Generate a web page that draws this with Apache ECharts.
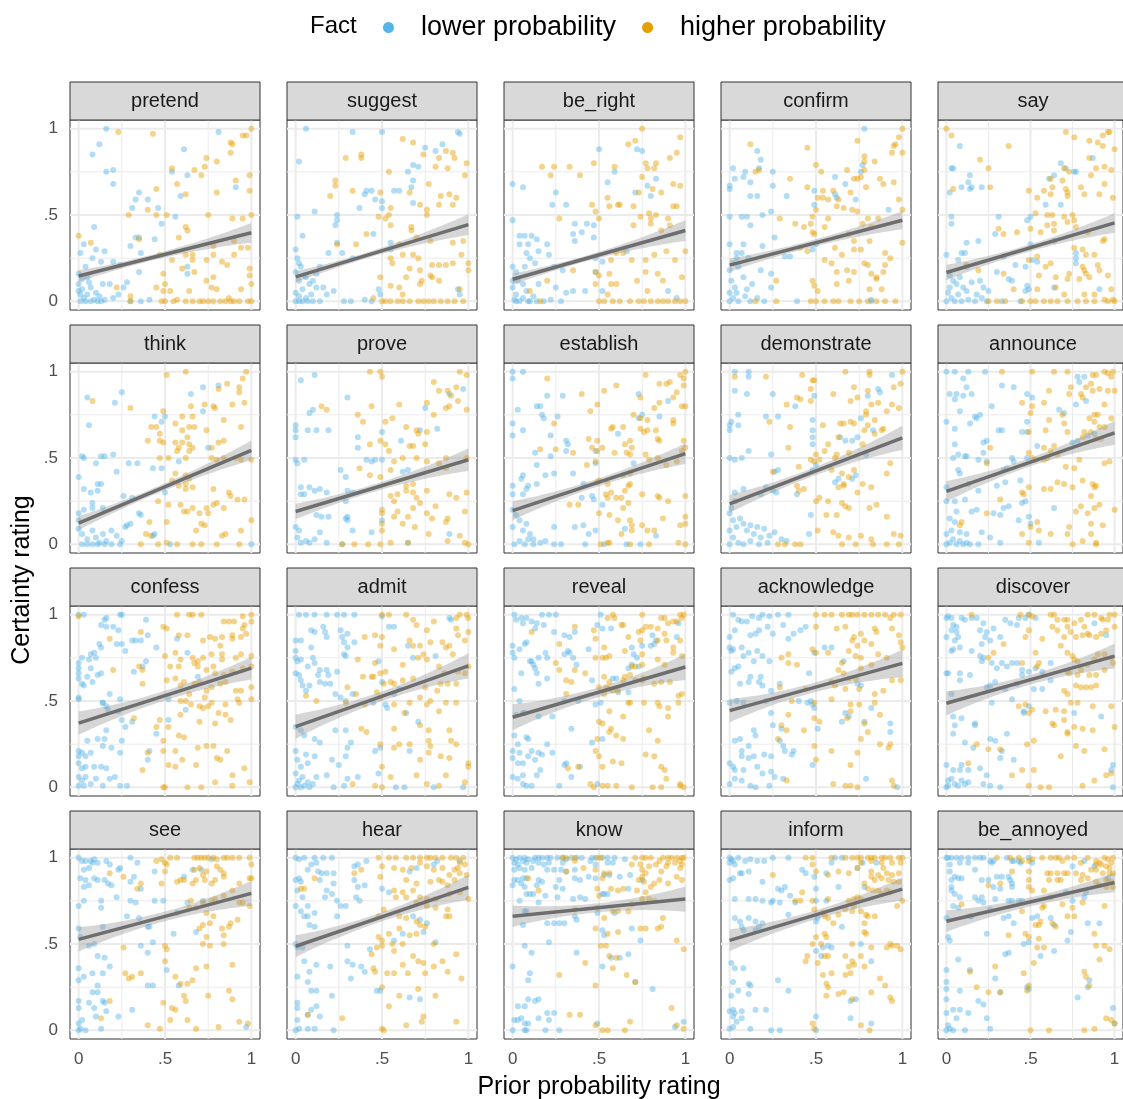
<!DOCTYPE html>
<html><head><meta charset="utf-8">
<script src="https://cdn.jsdelivr.net/npm/echarts@6/dist/echarts.min.js"></script>
<style>html,body{margin:0;padding:0;background:#fff}#c{width:1123px;height:1099px}</style>
</head><body><div id="c"></div>
<script>
const predicates = ['pretend','suggest','be_right','confirm','say','think','prove','establish','demonstrate','announce','confess','admit','reveal','acknowledge','discover','see','hear','know','inform','be_annoyed'];
const fitAt0 = [0.147,0.142,0.128,0.21,0.167,0.123,0.19,0.195,0.234,0.307,0.372,0.352,0.406,0.444,0.487,0.527,0.487,0.661,0.521,0.632];
const fitAt1 = [0.397,0.444,0.41,0.47,0.454,0.544,0.49,0.525,0.617,0.646,0.69,0.703,0.697,0.718,0.76,0.793,0.828,0.76,0.818,0.856];
const bandAt0 = [0.033,0.033,0.033,0.038,0.045,0.04,0.045,0.055,0.052,0.06,0.067,0.07,0.075,0.067,0.07,0.07,0.063,0.062,0.063,0.062];
const bandAtMid = [0.018,0.018,0.018,0.02,0.02,0.02,0.022,0.022,0.024,0.024,0.028,0.028,0.028,0.028,0.028,0.028,0.026,0.026,0.026,0.026];
const bandAt1 = [0.057,0.06,0.06,0.052,0.057,0.057,0.065,0.06,0.07,0.07,0.065,0.073,0.075,0.08,0.072,0.072,0.072,0.073,0.067,0.057];
const factLevels = ['lower probability','higher probability'];
const factColors = ['#56B4E9','#E69F00'];
const tickValues = [0, 0.5, 1];
const tickLabels = ['0', '.5', '1'];
const gridValues = [0, 0.25, 0.5, 0.75, 1];

// points as "x,y" pairs in percent, one string per predicate
const lowPoints = [
"16,100 12,91 8,85 16,75 20,76 20,68 61,88 81,98 54,75 63,73 35,63 33,59 40,59 31,54 46,54 59,61 91,66 56,49 48,45 9,43 33,37 35,37 3,33 30,32 44,36 10,30 15,29 1,28 8,25 13,23 4,20 0,16 20,23 24,21 36,28 63,20 63,16 35,17 14,10 18,10 28,11 0,6 2,7 5,4 7,8 3,2 9,1 11,0 13,0 15,1 1,0 4,0 7,0 20,2 23,4 36,0 41,1 30,0 0,10 2,13 6,11 10,5 12,3 1,4 5,14 26,8",
"6,100 33,98 50,98 94,98 95,97 2,81 75,89 81,87 85,91 68,79 71,78 65,75 68,70 67,66 68,57 41,64 44,64 40,62 57,64 60,64 46,59 50,58 50,54 37,54 11,52 24,50 24,47 23,44 45,39 1,49 4,38 55,34 55,30 24,34 19,28 27,28 33,25 94,7 95,4 48,7 49,4 40,1 44,0 32,0 28,0 18,4 22,6 16,8 0,30 1,25 2,22 3,20 0,17 5,15 2,12 8,10 10,12 12,8 0,5 2,3 4,7 6,2 9,4 0,0 2,0 4,0 7,0 10,0 14,0 6,14 12,16 14,20",
"0,68 6,66 25,63 23,56 31,56 50,88 72,88 75,87 55,69 59,75 71,63 80,61 78,67 83,71 0,47 4,38 7,38 11,38 14,36 4,33 9,33 20,33 15,29 21,27 8,28 36,45 43,45 47,44 40,40 35,39 47,37 36,35 10,25 13,22 7,20 0,20 2,17 0,12 24,20 29,18 48,25 52,23 66,29 15,10 25,8 31,5 35,6 42,6 90,6 95,2 48,17 52,6 0,8 2,4 4,0 6,2 8,6 10,0 12,3 3,12 6,10 1,1 14,0 18,0 22,1 28,0 2,0 9,0",
"78,100 16,87 18,82 17,77 2,77 9,75 8,72 3,71 0,67 0,65 12,69 25,75 25,67 12,61 16,61 33,61 77,79 76,75 61,72 67,68 49,64 49,56 61,62 62,60 73,59 0,49 7,49 10,49 12,44 19,50 24,52 92,53 0,33 8,33 19,32 26,37 4,28 7,28 4,25 11,25 32,26 35,26 48,30 50,33 2,22 5,20 0,18 8,14 18,18 24,16 13,10 24,8 1,12 3,8 0,5 2,2 5,0 9,3 12,0 16,2 20,0 39,0 82,0 82,1 0,0 4,5 10,7",
"8,90 3,77 4,77 14,73 13,69 15,66 9,66 14,65 2,63 21,66 68,80 71,77 76,75 77,75 61,71 64,73 87,83 3,49 3,45 31,49 29,39 50,49 48,47 59,56 68,56 12,34 19,35 9,28 11,28 7,24 0,27 12,20 34,26 41,21 50,33 51,24 54,23 64,35 47,20 77,28 77,25 77,22 30,17 37,13 39,12 48,9 49,7 47,6 64,8 91,7 2,15 4,12 6,10 8,14 10,8 12,6 15,11 18,4 20,12 22,8 25,6 1,5 3,2 5,0 7,4 9,0 13,1 17,0 21,2 24,0 33,0 44,0 0,0 2,8",
"5,85 25,88 21,82 6,69 72,91 81,92 65,87 72,77 44,74 48,71 50,74 2,51 3,50 13,51 15,51 20,52 10,47 34,47 29,47 22,42 43,44 48,44 58,48 75,56 0,39 3,32 7,30 11,35 13,35 11,31 26,28 31,27 3,20 8,21 8,24 14,21 35,18 36,17 0,18 0,14 0,9 2,6 5,3 8,8 10,4 12,1 14,6 16,2 19,8 22,5 25,2 27,10 28,11 30,12 2,0 5,0 8,0 11,0 15,0 19,0 24,0 44,6 53,0 100,0 43,5 50,30",
"3,95 11,98 8,76 10,78 0,69 0,66 0,62 7,66 12,66 19,66 30,85 36,62 36,56 89,87 97,90 82,67 75,79 72,66 61,60 50,65 0,49 5,49 1,47 26,43 29,39 41,49 46,49 50,49 44,48 65,43 62,42 3,33 8,33 3,29 5,29 11,31 14,32 18,30 30,31 33,30 29,25 12,17 15,16 19,16 30,16 29,15 30,14 33,8 44,7 50,14 1,4 3,1 6,2 8,1 11,3 14,7 18,1 27,0 65,1 89,6 0,10 2,8",
"0,100 6,100 0,96 3,78 0,70 0,63 6,66 20,86 14,80 16,80 17,75 18,73 26,74 22,63 29,86 31,60 32,58 31,54 13,53 22,51 14,46 24,41 19,40 6,40 5,38 0,34 0,29 6,29 9,34 14,35 8,32 35,41 41,35 48,54 48,47 61,64 73,87 75,75 73,73 85,74 90,83 70,47 24,10 36,10 41,11 47,26 46,28 40,27 44,6 48,8 52,23 65,9 83,5 0,20 2,17 4,14 0,10 6,8 8,12 10,6 12,3 1,0 4,2 7,0 9,3 12,0 16,1 19,2 24,0 28,0 42,0 53,0 66,0 74,0",
"3,100 11,100 11,97 3,89 10,87 1,71 0,66 0,69 5,69 5,75 25,87 21,74 28,74 38,80 49,86 48,72 48,66 48,62 48,58 0,50 3,49 7,50 11,54 24,52 28,43 26,42 21,33 25,31 18,29 27,30 8,32 3,30 3,25 1,21 39,29 50,46 48,43 64,62 67,60 71,60 74,62 76,73 80,86 86,90 87,88 94,98 83,66 79,52 63,38 61,36 71,38 73,40 47,17 46,6 33,2 0,18 2,14 4,10 6,15 8,12 10,8 12,11 14,6 16,10 18,4 20,9 23,5 26,7 2,4 5,1 8,0 0,0 12,2 17,0 22,1 30,3 0,8",
"0,100 5,100 13,100 23,100 10,96 12,91 33,92 2,87 6,87 10,86 15,87 5,84 8,77 27,80 40,91 48,87 51,85 78,97 82,97 79,94 77,81 83,83 67,78 70,76 0,71 5,67 14,70 18,73 20,75 17,74 31,66 33,66 45,65 48,71 48,65 5,58 7,52 4,50 11,51 12,51 22,59 24,60 22,53 19,49 24,48 48,50 54,57 39,50 40,48 34,43 36,44 7,43 8,41 13,35 0,33 0,25 5,25 11,26 19,31 30,34 35,36 44,37 45,24 47,25 64,21 75,59 78,60 84,63 88,64 6,19 5,13 2,15 15,19 18,20 28,18 32,17 34,21 37,22 8,7 12,6 21,7 26,4 32,1 43,14 49,16 50,12 55,1 0,0 2,1 4,3 6,0 8,2 10,0 12,1 14,0 19,0 0,6 3,8",
"0,100 3,100 15,97 16,98 13,94 16,93 20,93 23,91 24,100 25,100 39,97 12,83 13,81 22,83 25,83 27,79 31,85 33,85 40,88 36,85 2,75 7,77 9,78 10,75 6,74 0,72 0,69 0,66 0,63 2,60 3,59 7,69 5,64 8,61 11,65 13,66 32,67 37,70 39,73 45,81 57,86 63,78 69,64 62,45 52,51 0,51 0,52 14,49 14,49 16,47 17,45 18,54 24,51 23,44 25,39 31,38 27,35 16,33 45,31 52,39 5,27 11,28 14,24 15,28 19,23 24,20 25,27 0,21 0,18 2,20 4,18 7,20 0,14 2,11 4,12 9,12 13,12 16,11 0,6 2,4 4,6 7,2 10,5 14,1 18,5 21,6 24,1 28,1 0,1 3,1 40,16 41,21",
"2,100 6,100 11,100 18,100 24,100 28,100 34,100 50,99 89,98 90,97 9,91 11,90 16,93 17,90 26,91 28,84 34,84 18,87 27,87 30,89 54,93 57,93 65,82 68,75 81,76 0,85 3,85 0,79 0,75 1,73 3,74 7,70 9,81 10,75 11,72 13,65 14,68 18,68 19,65 24,67 28,77 30,81 29,76 20,60 23,54 0,66 2,65 3,62 4,59 6,56 8,59 14,61 17,60 26,52 29,50 33,54 48,73 50,61 52,48 45,49 60,57 57,54 64,43 71,38 66,21 53,46 49,23 46,21 0,35 3,33 5,30 11,28 14,26 23,33 29,33 32,26 30,23 29,18 25,13 21,16 0,21 1,16 3,12 7,14 11,18 6,19 12,6 18,7 22,0 28,1 30,5 36,6 48,8 58,0 63,0 80,0 97,0 0,0 1,2 2,4 3,0 4,6 5,1 7,3 8,0 10,2 0,8",
"1,100 2,97 5,98 8,98 6,95 11,96 14,95 17,100 21,100 25,100 13,92 18,94 24,90 30,88 33,87 36,90 49,94 52,92 57,92 51,100 0,82 0,78 1,75 4,80 7,83 8,84 11,73 12,71 13,69 10,73 15,75 19,78 20,75 30,77 32,79 33,78 35,75 37,71 44,80 5,66 14,66 15,60 20,63 1,57 4,50 6,43 23,41 30,50 38,50 46,62 48,48 51,49 58,63 60,63 69,81 70,77 72,75 75,82 67,69 69,71 73,70 80,82 82,83 83,85 95,87 96,95 81,88 67,55 61,55 2,42 7,43 15,41 34,34 46,26 52,28 30,13 31,14 39,12 1,30 8,29 9,28 3,25 0,21 4,20 11,21 15,20 20,25 0,17 3,14 6,14 9,18 13,16 17,19 23,20 0,6 3,5 6,7 6,2 8,1 11,1 14,7 16,10 27,1 34,6 49,2",
"2,100 5,97 7,96 3,91 10,96 13,99 17,98 19,100 17,91 15,89 12,88 22,93 23,99 28,100 34,100 44,93 41,91 37,89 34,86 25,89 31,94 0,87 0,81 1,79 2,80 7,81 11,78 16,79 19,76 23,73 8,76 5,70 1,67 3,69 14,73 12,64 17,61 6,60 11,61 19,59 24,56 29,60 18,64 46,66 55,81 49,78 59,81 66,73 0,49 4,50 8,49 21,50 24,43 25,36 30,34 40,50 45,49 47,50 48,48 49,46 51,34 67,43 69,41 65,38 78,38 74,60 76,59 82,46 93,37 93,32 3,27 6,28 11,24 14,33 15,30 7,21 7,18 11,17 14,18 20,19 24,18 29,27 31,24 32,21 36,19 37,21 0,14 2,12 3,10 8,10 16,12 19,8 24,9 26,6 31,5 3,5 7,4 12,1 15,0 23,1 0,2 48,13 79,5 97,0",
"0,98 1,99 3,98 9,98 11,97 15,98 18,98 22,95 20,91 24,90 32,87 26,85 21,83 23,87 28,92 35,97 38,95 42,94 43,98 47,98 49,100 53,98 88,95 95,88 4,94 6,93 3,91 6,90 7,87 5,85 0,87 3,79 4,80 8,81 15,79 20,76 22,75 21,73 27,72 30,69 33,72 36,70 39,72 42,72 45,68 49,67 53,69 62,72 57,67 52,57 57,57 62,62 45,65 42,60 39,51 35,57 29,61 26,59 24,58 27,49 0,66 1,66 8,66 8,62 14,65 3,54 4,41 5,36 9,40 17,37 17,36 4,31 11,26 16,23 26,28 29,27 33,21 32,17 36,31 40,16 0,13 4,10 9,13 8,10 13,10 1,4 3,5 5,2 7,1 9,4 11,2 13,3 20,11 24,7 22,2 26,1 32,0 0,0 1,1 46,43 49,47 46,44 76,43 92,41 99,13 98,10 99,0",
"0,100 2,98 4,98 7,98 9,99 11,97 16,98 18,96 3,93 6,94 8,97 1,88 4,87 3,83 6,84 9,88 11,87 15,87 17,85 19,84 23,93 24,94 30,100 34,97 36,82 30,86 32,89 44,92 61,89 66,93 71,93 77,99 3,75 0,72 13,75 22,77 13,71 30,75 33,74 28,66 35,65 44,75 49,75 55,56 57,68 63,74 40,60 41,60 72,75 0,59 1,54 6,49 9,50 14,60 11,43 15,42 18,37 0,36 3,31 0,29 8,33 14,33 36,49 40,45 43,51 43,26 40,26 51,35 58,26 68,57 8,22 11,22 11,26 14,17 9,13 6,16 15,16 10,8 16,11 23,8 31,12 0,17 0,13 0,4 1,1 4,0 13,1 0,0 2,6 97,2",
"0,100 2,99 5,100 11,100 16,100 21,100 9,96 12,97 7,93 13,92 15,91 18,91 22,91 34,95 36,96 41,98 66,92 70,94 80,96 82,98 95,98 0,87 2,88 3,86 1,81 4,77 0,72 7,72 3,69 5,66 7,66 11,68 14,87 18,81 22,85 17,77 21,79 24,75 26,72 29,72 24,66 11,60 8,61 34,87 36,83 40,84 35,77 37,75 50,82 54,80 0,50 1,48 4,48 5,40 12,38 20,37 30,49 30,40 33,38 38,37 40,34 32,30 43,47 57,52 62,56 68,66 72,64 74,57 76,62 81,51 1,31 8,34 7,28 9,23 12,23 21,20 1,16 1,13 7,9 9,12 12,14 14,8 1,6 0,0 2,1 7,1 11,1 22,0 47,23 49,23 66,19 72,18",
"0,100 2,99 4,100 7,100 9,99 13,100 15,100 17,100 20,100 22,100 26,100 29,100 31,99 34,100 37,100 40,100 46,100 48,100 52,100 55,100 59,100 1,97 3,96 6,98 8,97 12,98 15,97 18,96 21,97 29,97 1,93 4,94 7,93 11,94 20,93 24,93 28,93 31,92 36,93 45,98 48,96 55,97 58,97 65,99 1,87 3,87 6,88 8,88 15,87 17,86 0,84 5,85 7,83 14,84 25,83 29,82 27,87 36,88 39,87 44,89 48,88 53,90 56,90 62,89 68,90 8,79 10,79 12,79 19,78 15,74 4,75 26,77 35,76 39,77 42,76 52,79 53,79 55,79 67,82 75,87 7,69 8,69 6,61 20,62 24,62 27,62 30,62 36,66 37,64 49,68 52,58 53,55 59,68 69,59 74,52 7,49 11,45 21,51 0,37 10,33 9,29 15,18 13,17 9,18 3,14 7,14 1,6 3,6 5,7 7,4 9,4 15,7 20,10 24,10 21,6 0,0 7,0 8,0 19,0 27,0 37,45 49,4 52,37 57,42 62,42 67,44 71,28 81,24 99,5 94,2",
"0,100 1,99 2,98 5,100 9,98 12,99 16,98 20,98 25,100 34,100 0,97 3,96 7,91 11,92 0,87 2,88 6,91 19,86 11,76 15,76 3,76 19,75 25,75 30,81 32,83 35,78 28,82 38,74 29,74 42,93 44,91 49,89 50,82 50,75 56,91 56,75 63,83 61,100 65,100 59,97 74,94 77,97 85,97 3,65 6,63 7,60 11,65 15,63 17,60 19,62 15,58 8,58 24,74 34,67 51,65 50,63 57,49 59,48 65,60 53,43 54,48 50,46 1,39 3,36 8,36 11,27 12,26 2,28 5,23 11,21 28,29 34,23 82,40 76,50 78,83 70,17 73,18 70,7 82,4 1,20 0,11 2,12 3,10 2,8 7,11 4,5 7,7 0,1 2,2 12,1 15,12 21,12 24,0 29,0 50,8 50,0",
"0,100 1,100 3,100 6,100 9,100 13,100 17,100 20,100 22,100 26,98 27,97 28,98 36,100 39,98 40,98 43,98 44,97 49,100 51,97 2,96 8,97 13,97 2,92 3,87 7,88 5,89 9,88 17,93 21,87 25,87 30,89 33,89 37,89 38,87 39,85 28,83 32,82 39,83 3,83 3,81 5,79 8,77 17,77 19,75 21,77 22,74 26,70 29,76 37,75 39,75 43,75 45,75 75,95 82,98 88,95 96,88 71,80 82,77 83,80 75,75 4,72 7,71 15,66 14,66 34,65 37,66 40,62 51,65 54,66 62,65 64,61 74,57 84,62 91,62 0,65 1,54 2,52 24,56 35,44 37,45 46,50 49,51 56,43 64,46 72,52 7,41 14,35 0,35 0,28 0,24 8,23 19,17 22,15 32,22 29,30 48,25 49,24 78,19 85,29 84,25 0,18 0,10 4,12 6,7 13,10 8,12 24,7 26,1 1,3 0,0 2,1 4,0 11,0 99,13 100,4"
];
const highPoints = [
"23,98 43,97 100,100 97,96 95,96 88,92 89,91 88,86 74,83 80,81 73,78 67,76 54,77 71,73 57,68 45,65 91,70 99,73 99,64 80,63 62,62 40,53 29,50 45,50 51,50 75,50 89,48 95,48 100,50 62,43 63,41 58,37 35,36 7,34 0,38 94,31 90,35 98,31 78,32 66,27 62,27 47,27 54,24 78,27 90,27 66,24 74,24 83,23 86,21 99,19 99,15 78,14 74,12 67,17 60,19 49,16 50,10 49,6 45,8 30,3 22,8 53,6 64,6 77,8 80,7 100,10 94,7 48,0 50,0 55,0 62,0 66,0 70,0 72,0 75,0 78,0 82,0 85,0 88,0 90,0 93,0 98,0 100,0 30,0 57,1 87,2",
"29,83 38,85 38,83 23,70 23,67 20,61 33,64 49,63 62,94 68,92 74,85 83,83 87,87 91,86 92,83 99,80 98,73 81,78 88,77 54,75 77,68 66,63 72,56 84,61 89,62 93,60 76,53 76,50 83,56 91,56 55,54 54,50 48,49 52,48 55,44 41,39 35,33 24,33 67,43 67,41 60,33 78,35 70,37 91,34 97,35 96,27 62,27 68,27 71,25 55,25 56,22 79,21 83,21 87,21 91,22 100,22 66,19 72,18 78,15 79,14 73,12 72,10 64,14 100,18 49,14 55,9 60,8 83,12 95,7 50,0 52,0 55,0 59,0 62,0 66,0 71,0 74,0 77,0 80,0 84,0 88,0 92,0 97,0 45,2 62,4",
"75,100 67,91 71,93 97,95 95,86 91,83 17,78 24,78 33,78 22,73 39,73 47,80 59,78 75,72 78,77 82,77 83,80 77,80 93,68 97,67 73,63 86,63 81,65 55,60 61,56 56,55 62,56 70,55 46,56 48,52 93,55 95,55 79,51 83,50 27,48 50,48 74,49 80,48 90,48 70,44 80,45 86,41 91,44 100,29 89,29 60,28 57,24 64,28 69,24 77,24 82,27 94,24 35,18 48,17 50,15 56,16 60,10 72,12 77,17 84,16 87,12 98,14 10,6 20,12 48,10 57,10 78,6 50,0 53,0 58,0 62,0 68,0 73,0 76,0 80,0 84,0 87,0 90,0 94,0 97,0 100,0 16,0 55,4",
"12,91 45,89 74,93 100,100 98,95 96,91 95,90 94,86 100,86 78,84 78,81 68,76 78,76 84,81 17,76 15,75 50,79 53,75 35,71 45,66 72,71 74,71 76,72 79,66 87,71 89,68 95,69 54,64 54,60 57,59 60,64 63,59 70,63 51,60 50,53 62,55 57,48 66,54 71,53 74,52 80,48 77,45 82,43 86,48 98,59 100,53 29,48 38,45 43,43 47,45 48,49 49,39 55,43 48,40 69,39 72,35 76,30 81,35 100,34 41,31 45,29 61,31 65,27 72,30 55,24 59,22 62,17 68,18 72,17 78,22 80,21 85,14 90,28 93,25 90,21 89,17 82,16 85,13 27,12 48,12 49,9 51,6 62,10 69,12 81,7 88,7 50,0 55,0 60,0 63,0 70,0 75,0 80,0 85,0 90,0 96,0 47,0 15,0 27,0",
"0,100 3,96 37,90 20,82 25,77 4,65 26,66 71,98 76,95 85,93 90,92 93,96 96,98 97,98 93,90 100,88 85,83 89,77 94,78 98,76 94,68 99,60 91,62 70,77 73,75 69,70 71,65 72,63 72,61 80,66 86,73 82,62 49,64 54,60 58,64 62,62 63,66 62,71 50,42 53,51 60,50 63,50 60,44 64,45 64,41 56,40 70,49 75,50 76,47 72,46 77,43 84,40 94,36 93,35 31,42 34,39 42,40 49,24 54,26 59,20 62,22 34,16 19,18 12,21 76,31 81,30 83,27 88,27 90,21 81,20 82,18 83,16 73,16 72,13 79,13 85,14 91,18 96,15 55,15 65,14 65,8 54,7 40,7 70,4 82,4 88,4 98,7 94,1 99,1 25,0 30,0 35,0 45,0 50,0 53,0 58,0 62,0 66,0 72,0 78,0 83,0 88,0 96,0 100,0",
"51,98 62,100 97,100 95,96 93,91 93,88 86,93 81,90 8,83 30,79 78,80 79,79 65,80 73,81 66,74 60,74 49,77 45,68 42,68 56,70 60,66 64,68 67,68 74,66 94,68 89,81 96,82 84,72 40,60 47,64 47,60 49,59 56,59 60,59 58,56 57,54 63,62 64,58 64,54 66,56 77,56 81,59 84,60 77,50 80,49 84,50 91,50 94,49 100,49 47,50 52,50 62,50 56,41 62,40 64,38 62,35 62,32 66,33 58,34 54,37 78,32 87,30 88,28 92,26 96,26 46,25 52,23 59,23 61,19 63,19 66,21 70,18 75,18 78,23 80,24 74,21 84,21 51,13 41,13 71,12 73,11 68,8 83,5 85,6 94,8 100,14 39,6 36,0 46,0 51,1 57,0 66,0 71,0 80,0 93,0 42,5",
"43,100 49,100 50,97 80,94 88,89 93,91 95,100 99,98 90,86 94,83 99,78 87,79 89,80 83,89 76,82 60,81 44,80 15,80 18,78 36,75 39,71 52,71 56,73 64,68 76,65 80,75 71,64 68,57 66,57 75,58 70,66 43,58 49,60 52,58 54,54 62,50 70,50 76,48 83,47 87,50 87,44 99,50 57,48 37,44 55,43 49,39 43,40 64,34 68,35 64,31 68,30 76,31 70,27 72,24 81,22 89,29 93,27 99,30 55,28 59,29 57,25 50,20 50,18 57,16 59,19 68,21 65,16 76,18 79,15 87,13 88,15 98,19 62,12 69,10 77,6 95,5 50,12 50,8 27,0 34,0 42,0 55,1 65,1 88,2 98,1 100,0 49,0",
"20,96 40,87 45,77 49,81 53,89 60,92 77,98 85,93 89,93 91,94 95,88 97,98 99,96 99,92 100,100 74,85 82,79 85,82 93,85 98,80 100,80 70,75 74,73 78,72 93,72 93,70 24,70 57,67 58,68 64,68 74,67 76,65 78,66 83,66 84,61 85,60 99,60 44,61 49,60 46,56 49,54 52,56 68,60 69,56 65,58 16,55 25,55 35,53 59,53 66,53 68,52 77,52 79,49 84,50 89,46 95,48 98,54 100,56 43,46 48,48 50,37 49,36 55,35 64,40 68,41 33,23 38,23 54,29 55,27 57,30 60,27 63,27 67,34 68,35 65,31 67,24 64,21 75,29 84,28 85,27 90,25 100,28 50,18 56,17 61,14 68,14 69,11 69,8 75,11 78,8 82,8 97,11 100,16 100,12 87,15 63,6 55,1 51,0 56,1 68,0 79,0 96,1 100,0",
"3,97 21,97 42,98 48,95 49,95 47,90 67,100 81,100 81,98 72,91 80,89 100,100 99,93 95,91 39,85 41,84 33,81 47,83 60,87 70,83 74,85 82,81 86,82 91,77 94,81 98,79 79,77 79,75 84,72 78,66 89,67 23,71 35,68 54,69 64,70 66,70 70,71 72,70 63,62 57,58 55,54 61,50 62,52 69,53 77,58 80,69 84,64 88,66 34,56 25,42 40,45 47,49 49,48 52,49 50,52 59,43 65,41 66,34 66,35 63,33 72,43 69,39 82,33 91,41 93,47 77,35 39,34 40,31 43,32 50,25 52,27 57,25 74,30 67,22 65,24 69,21 81,21 85,23 91,16 62,17 56,17 51,8 60,7 63,5 69,4 76,5 82,3 95,6 99,5 98,0 28,0 32,0 38,0 41,0 65,0 73,0 83,0 91,0",
"33,100 51,100 64,100 72,100 87,98 89,98 94,100 96,99 98,97 99,100 100,89 96,89 91,90 86,93 83,91 87,89 80,87 81,85 74,91 73,87 61,89 45,82 51,80 50,76 58,82 69,75 70,70 61,72 59,66 49,65 88,75 90,75 94,81 98,73 85,73 88,71 91,68 94,68 86,65 82,65 81,62 89,61 92,61 72,65 26,56 24,47 49,53 51,50 53,49 58,49 60,50 62,54 64,57 58,56 66,52 79,49 94,47 97,48 71,45 76,44 66,36 70,35 58,32 62,32 49,33 45,30 46,29 75,33 81,37 87,35 88,33 89,34 86,28 80,22 88,21 91,23 100,20 84,18 86,12 93,11 77,19 73,10 72,6 81,2 86,6 89,1 45,6 50,10 54,13 55,8 62,6 49,1 32,26 24,18 8,11 9,13 75,0 89,0",
"0,99 18,86 36,90 49,93 51,92 57,100 64,100 66,100 71,100 58,88 63,88 72,85 76,87 79,86 82,82 83,87 89,88 89,86 94,87 84,96 87,96 90,96 95,99 100,100 100,96 96,94 95,92 97,89 50,76 56,78 59,74 66,75 67,72 69,73 72,75 77,77 83,77 83,74 91,75 94,77 100,76 35,70 37,68 53,70 58,70 69,70 74,68 78,70 79,66 84,65 89,67 95,69 100,70 20,68 37,60 51,62 56,63 59,59 61,61 67,60 70,61 74,56 77,58 82,60 85,61 91,56 94,56 100,58 64,54 73,52 59,50 62,50 65,48 70,47 72,46 75,47 77,49 85,48 92,51 93,49 100,51 81,43 85,42 79,37 70,38 59,42 47,39 52,35 88,39 32,40 45,35 58,30 61,29 49,27 49,21 56,21 60,16 56,12 52,13 40,20 69,23 74,24 78,24 80,17 82,16 86,21 89,7 96,11 99,3 37,10 68,13 79,3 49,0 50,0 63,0 71,0 89,1",
"50,100 54,100 64,100 68,97 70,94 76,91 80,96 93,98 95,100 99,100 100,98 93,92 100,90 94,88 98,85 85,84 87,81 89,82 91,77 50,87 49,82 46,88 40,87 57,80 66,85 68,82 72,82 78,84 74,77 76,74 71,75 62,71 52,67 49,66 45,64 39,64 44,64 46,72 36,74 51,60 55,61 57,60 62,62 68,63 75,58 72,52 76,48 82,56 84,60 88,60 93,60 98,66 100,70 94,67 86,66 83,70 6,53 12,50 29,49 30,58 35,54 40,48 47,55 49,52 57,48 66,49 78,50 87,49 93,49 83,44 63,43 38,34 41,32 57,34 60,25 66,25 72,36 77,33 89,33 90,27 93,25 77,27 78,24 57,23 49,25 72,16 77,20 84,18 89,17 100,14 100,12 87,7 70,7 76,2 83,1 98,3 55,6 50,12 46,1 50,0 33,2",
"55,98 58,100 59,98 63,94 64,94 75,100 80,93 84,92 86,98 88,98 90,95 93,96 95,96 97,100 98,98 99,100 67,87 73,90 75,91 77,93 84,85 88,89 89,85 97,85 93,81 93,78 98,76 11,90 27,83 36,93 47,91 48,86 53,81 54,75 48,75 52,75 56,76 65,79 69,70 71,70 75,71 75,77 74,85 84,74 88,71 25,72 27,68 36,68 42,66 31,62 34,61 53,64 56,61 54,58 56,57 58,56 61,56 64,62 65,64 68,65 71,62 75,62 76,63 82,60 86,61 91,61 96,53 98,54 31,54 50,58 53,54 67,49 76,49 84,49 96,49 90,46 85,47 56,44 64,41 68,49 50,38 52,37 57,34 56,32 60,30 64,28 79,33 84,27 90,41 49,28 48,21 50,18 52,12 58,15 63,14 77,19 82,18 86,12 88,10 89,5 97,2 99,0 32,11 38,12 45,2 47,0 52,1 55,1 60,1 69,0 81,0 86,0 97,1",
"50,100 55,100 59,100 65,100 69,100 71,100 74,100 78,100 82,100 86,100 90,100 95,100 99,100 93,98 94,92 84,92 85,90 76,89 72,87 71,85 78,85 82,83 98,88 99,84 100,81 62,92 67,93 50,93 48,80 34,77 30,75 34,72 39,71 50,78 57,78 74,82 69,79 73,76 76,75 82,71 86,77 91,75 76,69 65,72 63,68 59,61 61,59 66,66 69,63 73,63 75,57 84,54 89,56 94,62 99,62 29,58 36,50 44,57 49,49 59,51 67,57 70,48 75,48 84,49 87,42 70,44 68,40 49,40 52,38 30,36 33,33 43,33 78,37 80,32 76,28 74,20 87,25 92,23 93,25 59,21 49,24 50,16 70,13 67,1 70,1 74,0 95,1 94,4 60,2 33,4 28,28 34,42",
"15,100 44,100 49,100 51,99 62,100 64,100 66,97 70,97 72,97 76,95 80,97 84,100 88,100 92,98 93,97 96,97 100,100 97,100 63,93 66,91 72,93 74,90 82,93 84,89 85,88 89,87 92,89 95,91 100,93 81,88 77,87 70,87 68,82 72,78 75,76 76,74 78,73 80,68 84,71 88,74 90,77 94,77 98,75 57,86 49,91 47,87 34,83 28,78 25,75 53,78 55,72 54,70 45,72 72,67 73,66 78,65 85,65 89,65 94,68 99,72 70,56 72,54 77,59 80,58 83,58 86,58 89,59 87,47 98,47 43,47 47,48 49,43 51,45 59,44 65,45 70,44 74,49 78,49 70,39 72,32 76,35 81,34 87,33 82,21 72,31 63,37 64,36 52,27 48,25 45,10 39,7 32,22 25,22 18,25 13,14 52,10 49,1 56,0 61,0 77,24 94,22 100,35 95,7 98,8 88,4 81,1 68,18",
"45,98 48,99 50,97 53,100 57,100 67,100 69,100 71,100 73,100 75,100 78,100 80,99 84,100 86,100 89,100 93,100 99,100 100,96 50,92 51,96 18,91 26,89 67,93 70,94 72,90 74,92 80,95 82,93 84,91 84,89 79,87 77,85 73,87 68,87 66,85 57,86 59,87 61,87 48,85 36,85 34,82 93,85 99,88 100,88 89,81 84,78 79,76 77,75 72,74 65,75 64,71 68,71 93,74 95,74 99,72 74,68 78,66 76,62 72,61 70,59 83,59 87,60 88,62 92,64 84,55 84,50 74,54 72,50 76,49 26,48 31,31 29,30 36,33 27,33 50,49 51,47 50,40 56,31 59,27 63,27 66,29 68,36 74,37 89,38 75,20 61,20 62,17 54,13 56,12 49,16 18,17 13,7 47,1 40,3 53,6 63,6 68,1 81,2 93,5 98,4 87,23 89,18",
"48,100 54,100 58,100 64,100 68,100 72,100 76,100 78,100 81,100 85,100 90,100 93,100 97,100 95,97 94,94 92,93 95,91 98,96 57,94 62,93 67,94 72,97 76,95 80,93 85,94 89,90 50,95 49,89 34,91 38,93 11,88 3,82 5,82 64,87 70,85 78,86 83,87 85,86 88,84 92,87 99,90 57,81 62,80 68,81 72,77 76,76 81,76 89,79 95,80 100,76 58,77 64,77 70,74 76,72 81,71 88,70 89,66 87,66 60,66 64,65 70,63 72,61 75,60 60,59 51,70 48,66 54,56 48,54 50,52 66,55 70,56 80,50 93,44 50,49 47,48 56,50 62,50 57,46 44,44 68,43 71,40 74,39 62,38 65,33 75,33 80,37 85,40 88,34 96,30 45,36 46,34 53,33 57,33 71,24 50,25 54,14 60,20 81,20 93,5 74,8 73,5 64,3 27,7 7,9 50,1 51,0",
"29,100 31,100 36,100 49,100 51,100 71,100 75,100 77,100 80,100 87,100 90,100 92,100 95,100 98,100 99,100 97,98 94,97 98,96 69,96 74,96 79,95 83,96 90,97 97,94 31,92 36,98 41,94 48,93 53,91 56,91 75,93 77,91 86,92 89,95 85,98 82,85 85,87 90,85 95,89 98,87 80,83 75,89 73,87 76,86 72,81 77,80 64,82 61,81 57,82 49,82 50,78 52,88 9,88 15,81 75,76 79,76 82,75 69,73 67,69 61,69 58,69 36,70 49,71 53,65 74,59 77,59 84,59 86,60 87,65 48,59 55,56 61,57 95,52 51,49 54,49 56,43 60,42 48,26 42,39 27,32 66,32 71,28 58,36 92,13 39,9 33,9 68,5 95,3 99,1 99,47 52,0 55,0 65,0 48,3",
"44,100 48,100 59,100 67,100 71,100 74,100 76,100 80,100 82,100 84,100 88,100 90,100 93,100 98,100 100,100 76,97 82,98 88,97 94,97 99,97 48,96 50,92 57,90 63,92 69,91 74,94 82,92 86,90 89,94 91,91 94,90 98,91 82,89 84,87 88,88 92,87 95,86 98,86 78,85 80,82 83,81 86,81 88,79 91,81 93,80 57,76 72,76 76,76 74,77 69,75 76,69 79,67 80,66 84,66 97,72 100,75 25,90 38,75 41,75 48,75 42,80 49,70 54,68 55,66 57,65 60,62 63,67 67,70 71,69 72,72 78,62 78,57 79,56 93,50 94,49 97,49 71,50 55,56 56,54 50,54 48,50 53,50 55,43 57,43 51,39 44,40 45,43 67,43 71,40 69,37 72,38 78,37 82,48 91,48 99,47 54,32 59,33 67,32 70,33 56,27 57,25 56,20 63,21 66,22 82,22 90,26 93,19 94,17 87,30 76,43 76,3 71,18 48,4 49,1 81,0",
"30,100 38,100 43,100 45,98 49,98 51,99 57,100 62,100 65,100 67,100 69,98 72,100 76,100 80,97 84,100 89,98 91,97 94,100 96,99 98,97 99,100 95,95 89,96 92,96 97,94 39,92 49,92 60,91 62,91 66,91 70,91 72,91 77,91 81,90 86,93 89,93 93,91 97,91 99,91 49,87 61,87 66,87 68,87 80,87 84,88 89,86 95,87 98,86 25,84 32,85 49,83 51,81 58,81 91,84 95,83 99,83 9,73 45,69 62,77 58,72 57,71 69,73 75,71 81,74 72,66 76,66 94,72 53,61 56,63 55,61 63,62 65,60 55,53 49,54 47,56 37,55 54,48 58,48 52,39 88,56 89,49 94,49 97,47 91,41 82,34 83,31 85,26 29,37 46,33 14,34 18,25 25,22 32,22 48,23 49,26 95,7 98,6 100,4 50,0 61,0 82,0 88,1"
];

const FONT = '"Liberation Sans", Arial, Helvetica, sans-serif';
const parsePairs = s => s.trim().split(/\s+/).map(p => { const q = p.split(','); return [ +q[0] / 100, +q[1] / 100 ]; });

// layout
const NCOL = 5, COL_LEFT0 = 70, COL_STEP = 217, PANEL_W = 190;
const ROW_TOP0 = 120, ROW_STEP = 243, PANEL_H = 190, STRIP_H = 38;
const AX_MIN = -0.05, AX_MAX = 1.05;

const grids = [], xAxes = [], yAxes = [], series = [], graphics = [];
const tickLabel = v => { const i = tickValues.findIndex(t => Math.abs(t - v) < 1e-9); return i >= 0 ? tickLabels[i] : ''; };

predicates.forEach((name, i) => {
  const r = Math.floor(i / NCOL), c = i % NCOL;
  const left = COL_LEFT0 + c * COL_STEP, top = ROW_TOP0 + r * ROW_STEP;
  const isBottom = r === 3, isLeft = c === 0;
  grids.push({ left, top, width: PANEL_W, height: PANEL_H, show: true, borderColor: '#333333', borderWidth: 1, backgroundColor: '#fff', containLabel: false });
  const axCommon = (show) => ({
    type: 'value', gridIndex: i, min: AX_MIN, max: AX_MAX,
    splitLine: { show: false }, axisLine: { show: false },
    axisTick: { show, customValues: tickValues, length: 5, lineStyle: { color: '#333333', width: 1 } },
    axisLabel: { show, customValues: tickValues, formatter: tickLabel, color: '#4D4D4D', fontSize: 17, fontFamily: FONT, margin: 12 }
  });
  xAxes.push(axCommon(isBottom));
  yAxes.push(axCommon(isLeft));

  // background grid lines
  series.push({
    type: 'custom', xAxisIndex: i, yAxisIndex: i, silent: true, z: 1,
    data: gridValues.map(v => [v, v]),
    renderItem: (params, api) => {
      const v = api.value(0);
      const cs = params.coordSys;
      const px = api.coord([v, 0])[0], py = api.coord([0, v])[1];
      const major = Math.abs(v * 2 - Math.round(v * 2)) < 1e-9;
      const style = { stroke: '#EBEBEB', lineWidth: major ? 2 : 1 };
      return { type: 'group', children: [
        { type: 'line', shape: { x1: px, y1: cs.y, x2: px, y2: cs.y + cs.height }, style },
        { type: 'line', shape: { x1: cs.x, y1: py, x2: cs.x + cs.width, y2: py }, style }
      ] };
    }
  });
  // points
  [lowPoints[i], highPoints[i]].forEach((str, k) => {
    series.push({
      type: 'scatter', name: factLevels[k], xAxisIndex: i, yAxisIndex: i, z: 2,
      data: parsePairs(str), symbolSize: 6, silent: true,
      itemStyle: { color: factColors[k], opacity: 0.45 }
    });
  });
  // confidence band
  series.push({
    type: 'custom', xAxisIndex: i, yAxisIndex: i, silent: true, z: 3,
    data: [[0, fitAt0[i]]],
    renderItem: (params, api) => {
      const a = fitAt0[i], b = fitAt1[i], w0 = bandAt0[i], wm = bandAtMid[i], w1 = bandAt1[i];
      const w = x => w0 * (1 - x) * (1 - 2 * x) + 4 * wm * x * (1 - x) + w1 * x * (2 * x - 1);
      const up = [], dn = [];
      for (let k = 0; k <= 40; k++) {
        const x = k / 40, y = a + (b - a) * x;
        up.push(api.coord([x, y + w(x)]));
        dn.push(api.coord([x, y - w(x)]));
      }
      return { type: 'polygon', shape: { points: up.concat(dn.reverse()) }, style: { fill: 'rgba(153,153,153,0.4)', stroke: null } };
    }
  });
  // fitted line
  series.push({
    type: 'line', xAxisIndex: i, yAxisIndex: i, z: 4, silent: true, symbol: 'none',
    data: [[0, fitAt0[i]], [1, fitAt1[i]]],
    lineStyle: { color: '#6E6E6E', width: 3.5 }
  });
  // strip
  graphics.push({ type: 'rect', shape: { x: left, y: top - STRIP_H, width: PANEL_W, height: STRIP_H }, style: { fill: '#D9D9D9', stroke: '#333333', lineWidth: 1 }, z: 10 });
  graphics.push({ type: 'text', x: left + PANEL_W / 2, y: top - STRIP_H / 2, style: { text: name, fill: '#1A1A1A', fontSize: 20, fontFamily: FONT, textAlign: 'center', textVerticalAlign: 'middle' }, z: 11 });
});

graphics.push({ type: 'text', x: 599, y: 1087, style: { text: 'Prior probability rating', fill: '#000', fontSize: 25, fontFamily: FONT, textAlign: 'center', textVerticalAlign: 'middle' } });
graphics.push({ type: 'text', x: 22, y: 580, rotation: Math.PI / 2, style: { text: 'Certainty rating', fill: '#000', fontSize: 25, fontFamily: FONT, textAlign: 'center', textVerticalAlign: 'middle' } });

const chart = echarts.init(document.getElementById('c'), null, { renderer: 'canvas' });
chart.setOption({
  animation: false,
  backgroundColor: '#fff',
  title: { text: 'Fact', left: 305, top: 9, textStyle: { fontSize: 24, fontWeight: 'normal', color: '#000', fontFamily: FONT } },
  legend: {
    left: 378, top: 9, itemWidth: 11, itemHeight: 11, itemGap: 26, icon: 'circle', selectedMode: false,
    textStyle: { fontSize: 27, color: '#000', fontFamily: FONT, padding: [0, 0, 0, 22] },
    data: factLevels.map((n, k) => ({ name: n, itemStyle: { color: factColors[k], opacity: 1 } }))
  },
  grid: grids, xAxis: xAxes, yAxis: yAxes, series, graphic: graphics
});
</script></body></html>
